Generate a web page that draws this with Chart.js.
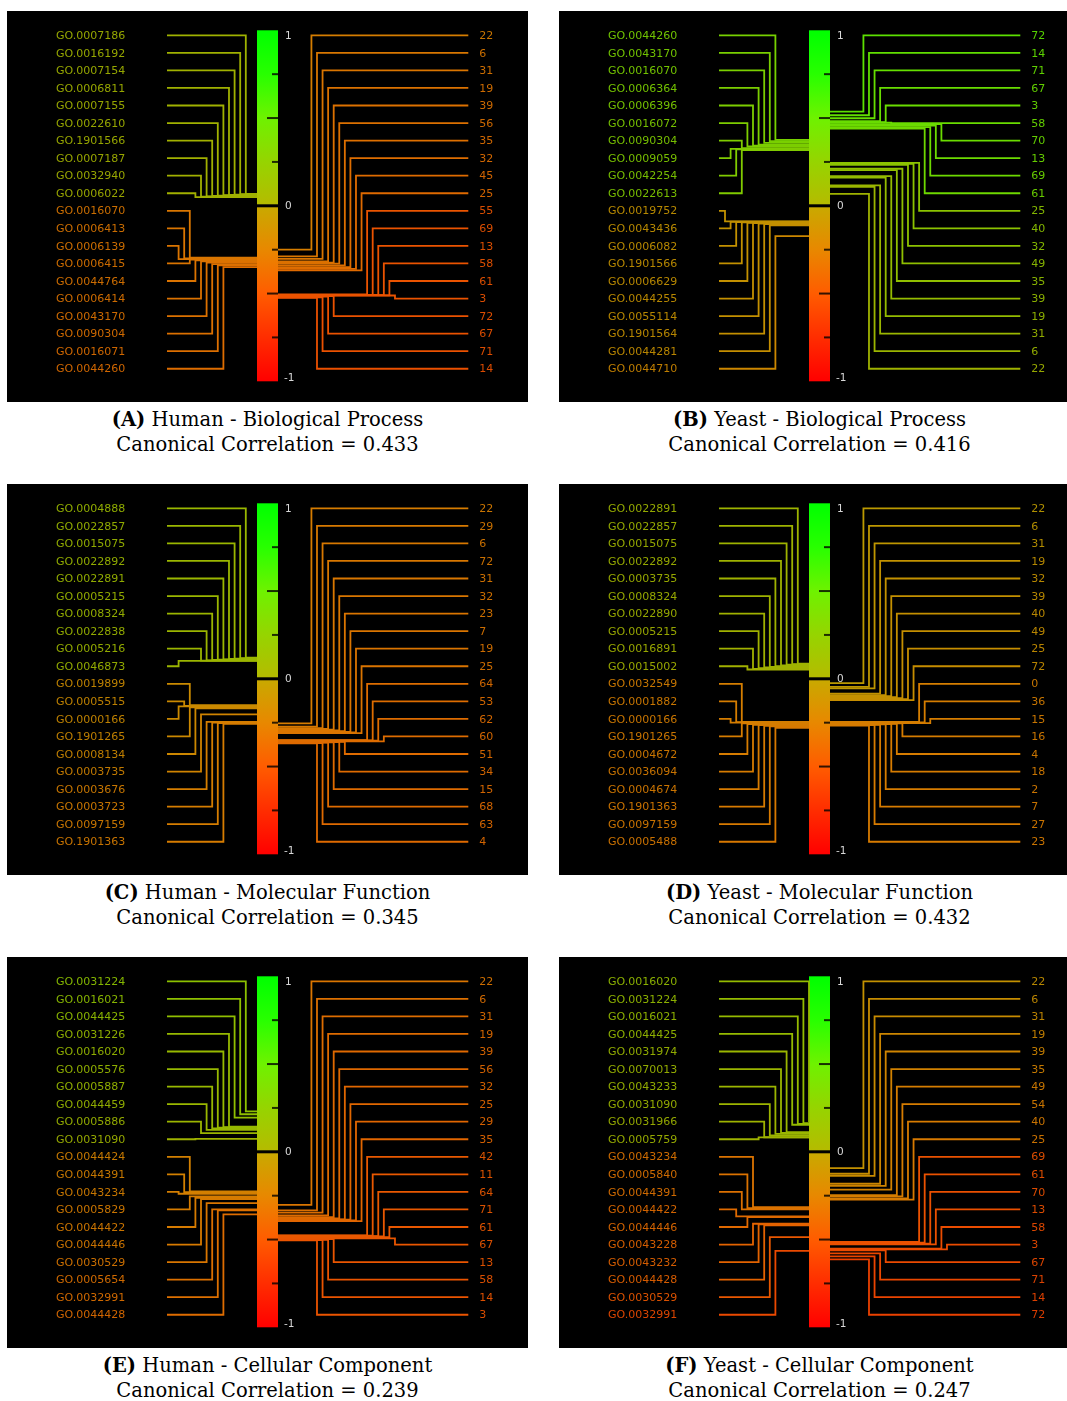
<!DOCTYPE html>
<html><head><meta charset="utf-8">
<script src="https://cdn.jsdelivr.net/npm/chart.js@4.4.0/dist/chart.umd.min.js"></script>
<style>
html,body{margin:0;padding:0;background:#fff;overflow:hidden;width:1067px;height:1401px;}
.panel{position:absolute;width:521px;height:391px;background:#000;overflow:hidden;}
.panel canvas{display:block;}
.cap{position:absolute;width:521px;text-align:center;font-family:"DejaVu Serif",serif;font-size:19.5px;color:#000;line-height:25.5px;white-space:nowrap;}
</style></head><body>
<script>
// ---------------- DATA ----------------
const panelA_goTerms = ["GO.0007186","GO.0016192","GO.0007154","GO.0006811","GO.0007155","GO.0022610","GO.1901566","GO.0007187","GO.0032940","GO.0006022","GO.0016070","GO.0006413","GO.0006139","GO.0006415","GO.0044764","GO.0006414","GO.0043170","GO.0090304","GO.0016071","GO.0044260"];
const panelA_goValues = [0.068,0.066,0.064,0.062,0.060,0.058,0.056,0.054,0.052,0.049,-0.296,-0.300,-0.304,-0.306,-0.311,-0.317,-0.324,-0.332,-0.339,-0.349];
const panelA_features = ["22","6","31","19","39","56","35","32","45","25","55","69","13","58","61","3","72","67","71","14"];
const panelA_featureValues = [-0.250,-0.288,-0.302,-0.317,-0.324,-0.330,-0.340,-0.349,-0.359,-0.368,-0.505,-0.507,-0.508,-0.509,-0.510,-0.511,-0.515,-0.518,-0.521,-0.525];

const panelB_goTerms = ["GO.0044260","GO.0043170","GO.0016070","GO.0006364","GO.0006396","GO.0016072","GO.0090304","GO.0009059","GO.0042254","GO.0022613","GO.0019752","GO.0043436","GO.0006082","GO.1901566","GO.0006629","GO.0044255","GO.0055114","GO.1901564","GO.0044281","GO.0044710"];
const panelB_goValues = [0.376,0.368,0.359,0.349,0.343,0.338,0.328,0.324,0.321,0.317,-0.089,-0.091,-0.093,-0.095,-0.097,-0.099,-0.101,-0.104,-0.112,-0.173];
const panelB_features = ["72","14","71","67","3","58","70","13","69","61","25","40","32","49","35","39","19","31","6","22"];
const panelB_featureValues = [0.537,0.516,0.499,0.482,0.476,0.474,0.465,0.457,0.448,0.440,0.245,0.239,0.233,0.211,0.203,0.169,0.161,0.116,0.108,0.068];

const panelC_goTerms = ["GO.0004888","GO.0022857","GO.0015075","GO.0022892","GO.0022891","GO.0005215","GO.0008324","GO.0022838","GO.0005216","GO.0046873","GO.0019899","GO.0005515","GO.0000166","GO.1901265","GO.0008134","GO.0003735","GO.0003676","GO.0003723","GO.0097159","GO.1901363"];
const panelC_goValues = [0.120,0.117,0.115,0.113,0.111,0.109,0.107,0.105,0.104,0.102,-0.150,-0.154,-0.157,-0.163,-0.169,-0.203,-0.245,-0.249,-0.252,-0.256];
const panelC_features = ["22","29","6","72","31","32","23","7","19","25","64","53","62","60","51","34","15","68","63","4"];
const panelC_featureValues = [-0.254,-0.273,-0.281,-0.285,-0.290,-0.294,-0.298,-0.302,-0.306,-0.309,-0.349,-0.351,-0.353,-0.357,-0.359,-0.361,-0.362,-0.364,-0.366,-0.368];

const panelD_goTerms = ["GO.0022891","GO.0022857","GO.0015075","GO.0022892","GO.0003735","GO.0008324","GO.0022890","GO.0005215","GO.0016891","GO.0015002","GO.0032549","GO.0001882","GO.0000166","GO.1901265","GO.0004672","GO.0036094","GO.0004674","GO.1901363","GO.0097159","GO.0005488"];
const panelD_goValues = [0.087,0.084,0.080,0.076,0.072,0.068,0.065,0.061,0.057,0.053,-0.245,-0.247,-0.250,-0.254,-0.258,-0.262,-0.264,-0.268,-0.271,-0.279];
const panelD_features = ["22","6","31","19","32","39","40","49","25","72","0","36","15","16","4","18","2","7","27","23"];
const panelD_featureValues = [-0.025,-0.046,-0.055,-0.085,-0.093,-0.099,-0.104,-0.110,-0.116,-0.121,-0.245,-0.249,-0.252,-0.254,-0.256,-0.258,-0.260,-0.262,-0.264,-0.266];

const panelE_goTerms = ["GO.0031224","GO.0016021","GO.0044425","GO.0031226","GO.0016020","GO.0005576","GO.0005887","GO.0044459","GO.0005886","GO.0031090","GO.0044424","GO.0044391","GO.0043234","GO.0005829","GO.0044422","GO.0044446","GO.0030529","GO.0005654","GO.0032991","GO.0044428"];
const panelE_goValues = [0.230,0.214,0.195,0.144,0.140,0.137,0.133,0.125,0.106,0.074,-0.226,-0.230,-0.239,-0.254,-0.262,-0.269,-0.292,-0.328,-0.334,-0.357];
const panelE_features = ["22","6","31","19","39","56","32","25","29","35","42","11","64","71","61","67","13","58","14","3"];
const panelE_featureValues = [-0.302,-0.334,-0.347,-0.362,-0.372,-0.380,-0.385,-0.387,-0.391,-0.395,-0.476,-0.478,-0.480,-0.482,-0.486,-0.493,-0.497,-0.501,-0.503,-0.505];

const panelF_goTerms = ["GO.0016020","GO.0031224","GO.0016021","GO.0044425","GO.0031974","GO.0070013","GO.0043233","GO.0031090","GO.0031966","GO.0005759","GO.0043234","GO.0005840","GO.0044391","GO.0044422","GO.0044446","GO.0043228","GO.0043232","GO.0044428","GO.0030529","GO.0032991"];
const panelF_goValues = [0.169,0.163,0.159,0.154,0.112,0.108,0.102,0.093,0.083,0.082,-0.315,-0.321,-0.328,-0.368,-0.372,-0.410,-0.414,-0.419,-0.486,-0.565];
const panelF_features = ["22","6","31","19","39","35","49","54","40","25","69","61","70","13","58","3","67","71","14","72"];
const panelF_featureValues = [-0.093,-0.125,-0.137,-0.182,-0.194,-0.216,-0.247,-0.254,-0.266,-0.273,-0.514,-0.518,-0.524,-0.528,-0.552,-0.556,-0.562,-0.579,-0.596,-0.613];

const panelLetters = ["A","B","C","D","E","F"];
const panelTitles = ["Human - Biological Process","Yeast - Biological Process","Human - Molecular Function","Yeast - Molecular Function","Human - Cellular Component","Yeast - Cellular Component"];
const canonicalCorrelations = ["0.433","0.416","0.345","0.432","0.239","0.247"];

const barTickLabels = [1, 0, -1];
const barMinorTicks = [0.75, 0.25, -0.25, -0.75];
const barMajorTicks = [0.5, -0.5];

// ---------------- LAYOUT / STYLE ----------------
const W = 521, H = 391;
const PX_PER_UNIT = 175.5;
const BAR_TOP_PX = 19.3;
const Y_MAX = 1 + BAR_TOP_PX / PX_PER_UNIT;
const Y_MIN = Y_MAX - H / PX_PER_UNIT;
const ROW0 = 0.9715, ROWSTEP = 0.1;
const BAR_L = 250, BAR_R = 271;
const LEFT_START = 160, RIGHT_END = 461.3;
const LANE_L = 5.6, LANE_R = 5.57;
const TEXT_DY = 0.8;
const panelPos = [[7,11],[559,11],[7,484],[559,484],[7,957],[559,957]];
const leftLaneBase = [2,6,2,2,2,0];

const stops = [
  [1.00,[0,255,0]],[0.75,[40,255,0]],[0.50,[110,242,0]],[0.25,[150,212,0]],[0.0,[182,186,0]],
  [-0.0001,[200,170,0]],[-0.25,[232,136,0]],[-0.50,[255,92,0]],[-0.75,[255,45,0]],[-1.00,[255,0,0]]
];
function cmapRGB(v){
  v=Math.max(-1,Math.min(1,v));
  for(let i=0;i<stops.length-1;i++){
    const [a,ca]=stops[i],[b,cb]=stops[i+1];
    if(v<=a && v>=b){
      const t=(a-v)/(a-b||1);
      return ca.map((x,k)=>x+(cb[k]-x)*t);
    }
  }
  return [255,0,0];
}
function cmap(v,dim){
  const c=cmapRGB(v).map(x=>Math.round(x*(dim||1)));
  return `rgb(${c[0]},${c[1]},${c[2]})`;
}
const rowVal = r => ROW0 - ROWSTEP*r;

function assignLanes(values, side, base){
  const n=values.length;
  const left = side==='left';
  const downBase = base, upBase = left?25:26, tol = left?0.02:0.04;
  const maxUp = left?14:40, maxLane = left?15:40;
  const up=[], lanes=[];
  for(let r=0;r<n;r++){
    const u = values[r]-rowVal(r) > tol;
    up.push(u);
    lanes.push(u ? upBase-r : downBase+r);
  }
  let r=0;
  while(r<n){
    if(up[r]){
      let e=r; while(e+1<n && up[e+1]) e++;
      let mx=-1; for(let k=r;k<=e;k++) mx=Math.max(mx,lanes[k]);
      if(mx>maxUp){ const s=mx-maxUp; for(let k=r;k<=e;k++) lanes[k]-=s; }
      r=e+1;
    } else r++;
  }
  for(let i=0;i<n;i++){
    lanes[i]=Math.min(lanes[i],maxLane);
    const lo=Math.min(rowVal(i),values[i]), hi=Math.max(rowVal(i),values[i]);
    let changed=true, guard=0;
    while(changed && guard<30){
      changed=false; guard++;
      for(let j=0;j<i;j++){
        if(lanes[j]!==lanes[i]) continue;
        const lo2=Math.min(rowVal(j),values[j]), hi2=Math.max(rowVal(j),values[j]);
        if(lo<=hi2+0.005 && lo2<=hi+0.005){ lanes[i]++; changed=true; }
      }
    }
    lanes[i]=Math.min(lanes[i],maxLane+1);
  }
  return lanes;
}

const panels = [
  {go:panelA_goTerms, gv:panelA_goValues, ft:panelA_features, fv:panelA_featureValues},
  {go:panelB_goTerms, gv:panelB_goValues, ft:panelB_features, fv:panelB_featureValues},
  {go:panelC_goTerms, gv:panelC_goValues, ft:panelC_features, fv:panelC_featureValues},
  {go:panelD_goTerms, gv:panelD_goValues, ft:panelD_features, fv:panelD_featureValues},
  {go:panelE_goTerms, gv:panelE_goValues, ft:panelE_features, fv:panelE_featureValues},
  {go:panelF_goTerms, gv:panelF_goValues, ft:panelF_features, fv:panelF_featureValues}
];

const barPlugin = {
  id:'colorbar',
  beforeDatasetsDraw(chart){
    const ctx=chart.ctx, xs=chart.scales.x, ys=chart.scales.y;
    const x0=xs.getPixelForValue(BAR_L), x1=xs.getPixelForValue(BAR_R);
    const yT=ys.getPixelForValue(1), yB=ys.getPixelForValue(-1);
    const g=ctx.createLinearGradient(0,yT,0,yB);
    stops.forEach(([v,c])=>g.addColorStop(Math.min(1,Math.max(0,(1-v)/2)),`rgb(${c[0]},${c[1]},${c[2]})`));
    ctx.save();
    ctx.fillStyle=g;
    ctx.fillRect(x0,yT,x1-x0,yB-yT);
    ctx.strokeStyle='rgba(0,0,0,0.8)';
    ctx.lineWidth=2;
    barMinorTicks.forEach(v=>{const y=ys.getPixelForValue(v);ctx.beginPath();ctx.moveTo(x1-6,y);ctx.lineTo(x1,y);ctx.stroke();});
    barMajorTicks.forEach(v=>{const y=ys.getPixelForValue(v);ctx.beginPath();ctx.moveTo(x1-11,y);ctx.lineTo(x1,y);ctx.stroke();});
    const y0=ys.getPixelForValue(0);
    ctx.strokeStyle='#000'; ctx.lineWidth=3;
    ctx.beginPath();ctx.moveTo(x0,y0);ctx.lineTo(x1,y0);ctx.stroke();
    ctx.restore();
  }
};

const textPlugin = {
  id:'labels',
  afterDatasetsDraw(chart){
    const ctx=chart.ctx, xs=chart.scales.x, ys=chart.scales.y;
    const p=chart.options.plugins.labels;
    ctx.save();
    ctx.font='11px "DejaVu Sans"';
    ctx.textBaseline='middle';
    ctx.textAlign='left';
    p.go.forEach((t,r)=>{ctx.fillStyle=cmap(p.gv[r],0.86);ctx.fillText(t,xs.getPixelForValue(49),ys.getPixelForValue(rowVal(r))+TEXT_DY);});
    p.ft.forEach((t,r)=>{ctx.fillStyle=cmap(p.fv[r],0.86);ctx.fillText(t,xs.getPixelForValue(472.3),ys.getPixelForValue(rowVal(r))+TEXT_DY);});
    ctx.fillStyle='#d8d8d8';
    ctx.font='10.5px "DejaVu Sans"';
    barTickLabels.forEach(v=>{
      let y=ys.getPixelForValue(v)+TEXT_DY;
      if(v===1) y+=5; else if(v===-1) y-=3.5;
      ctx.fillText(String(v), xs.getPixelForValue(v<0?277:278), y);
    });
    ctx.restore();
  }
};

panels.forEach((pn,i)=>{
  const [px,py]=panelPos[i];
  const div=document.createElement('div');
  div.className='panel';
  div.style.left=px+'px'; div.style.top=py+'px';
  const cv=document.createElement('canvas');
  cv.width=W; cv.height=H; cv.style.width=W+'px'; cv.style.height=H+'px';
  div.appendChild(cv);
  document.body.appendChild(div);

  const cap=document.createElement('div');
  cap.className='cap';
  cap.style.left=px+'px'; cap.style.top=(py+H+4.5)+'px';
  cap.innerHTML='<b>('+panelLetters[i]+')</b> '+panelTitles[i]+'<br>Canonical Correlation = '+canonicalCorrelations[i];
  document.body.appendChild(cap);

  const ll=assignLanes(pn.gv,'left',leftLaneBase[i]);
  const rl=assignLanes(pn.fv,'right',6);
  const datasets=[];
  pn.gv.forEach((t,r)=>{
    const xl=BAR_L-ll[r]*LANE_L, yr=rowVal(r);
    datasets.push({data:[{x:LEFT_START,y:yr},{x:xl,y:yr},{x:xl,y:t},{x:BAR_L,y:t}],
      showLine:true,borderColor:cmap(t,0.92),borderWidth:1.8,pointRadius:0,fill:false});
  });
  pn.fv.forEach((t,r)=>{
    const xr=BAR_R+rl[r]*LANE_R, yr=rowVal(r);
    datasets.push({data:[{x:BAR_R,y:t},{x:xr,y:t},{x:xr,y:yr},{x:RIGHT_END,y:yr}],
      showLine:true,borderColor:cmap(t,0.92),borderWidth:1.8,pointRadius:0,fill:false});
  });
  new Chart(cv,{
    type:'scatter',
    data:{datasets},
    options:{
      responsive:false, animation:false, devicePixelRatio:1, events:[],
      layout:{padding:0},
      elements:{line:{tension:0,borderCapStyle:'butt',borderJoinStyle:'miter'},point:{radius:0}},
      plugins:{legend:{display:false},tooltip:{enabled:false},
        labels:{go:pn.go,gv:pn.gv,ft:pn.ft,fv:pn.fv}},
      scales:{
        x:{type:'linear',min:0,max:W,display:false},
        y:{type:'linear',min:Y_MIN,max:Y_MAX,display:false}
      }
    },
    plugins:[barPlugin,textPlugin]
  });
});
</script>
</body></html>
